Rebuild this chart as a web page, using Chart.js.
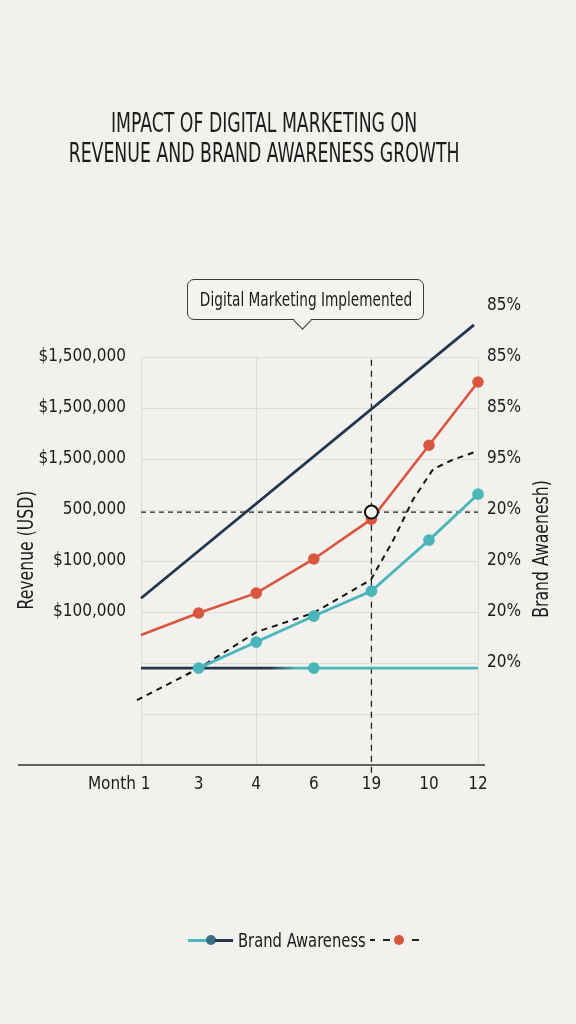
<!DOCTYPE html>
<html>
<head>
<meta charset="utf-8">
<script src="https://cdn.jsdelivr.net/npm/chart.js@4.4.1/dist/chart.umd.min.js"></script>
<style>
  html, body { margin: 0; padding: 0; background: #f2f1ed; }
  body { width: 576px; height: 1024px; position: relative; overflow: hidden;
         font-family: "DejaVu Sans Condensed", "DejaVu Sans", sans-serif; color: #1b1b1b; }
  #chart { position: absolute; left: 0; top: 0; }
  .title { position: absolute; left: 0; top: 108px; width: 528px; text-align: center;
           font-size: 26px; line-height: 30px; white-space: nowrap;
           transform: scaleX(0.74); transform-origin: 264px 0; }
  .callout { position: absolute; left: 187px; top: 279px; width: 235px; height: 39px;
             border: 1.5px solid #3a3a3a; border-radius: 7px; background: #f5f4f0;
             font-size: 19px; line-height: 39px; white-space: nowrap; }
  .callout span { position: absolute; left: 50%; top: 0; transform: translateX(-50%) scaleX(0.8); }
  .callout::after { content: ""; position: absolute; left: 108px; bottom: -8px; width: 12px; height: 12px;
             background: #f5f4f0; border-right: 1.5px solid #3a3a3a; border-bottom: 1.5px solid #3a3a3a;
             transform: rotate(45deg); }
  .legend { position: absolute; left: 188px; top: 928px; height: 24px; display: flex; align-items: center; font-size: 20px; }
  .legend span { display: inline-block; }
  .legend .txt { width: 129px; white-space: nowrap; margin-left: 5px; }
  .legend .txt b { font-weight: normal; display: inline-block; transform: scaleX(0.82); transform-origin: 0 0; }
</style>
</head>
<body>
<canvas id="chart" width="576" height="1024"></canvas>
<div class="title">IMPACT OF DIGITAL MARKETING ON<br>REVENUE AND BRAND AWARENESS GROWTH</div>
<div class="callout"><span>Digital Marketing Implemented</span></div>
<div class="legend">
  <span style="width:19px;height:3px;background:#4cb8bd"></span>
  <span style="width:10px;height:10px;border-radius:50%;background:#3b6e87;margin-left:-1px"></span>
  <span style="width:18px;height:3px;background:#22374d;margin-left:-1px"></span>
  <span class="txt"><b>Brand Awareness</b></span>
  <span style="width:5px;height:2px;background:#222;margin-left:3px"></span>
  <span style="width:7px;height:2px;background:#222;margin-left:8px"></span>
  <span style="width:10px;height:10px;border-radius:50%;background:#d9553e;margin-left:4px"></span>
  <span style="width:7px;height:2px;background:#222;margin-left:8px"></span>
</div>
<script>
// labels
const monthLabels = ['Month 1         ', '3', '4', '6', '19', '10', '12'];
const monthPos = [0, 1, 2, 3, 4, 5, 5.85];
const revenueTickLabels = ['', '', '', '$100,000', '$100,000', '500,000', '$1,500,000', '$1,500,000', '$1,500,000'];
const awarenessTickValues = [2, 3, 4, 5, 6, 7, 8, 9];
const awarenessTickLabels = ['20%', '20%', '20%', '20%', '95%', '85%', '85%', '85%'];

// series (grid units)
const revenue = [2.55, 2.98, 3.37, 4.04, 4.82, 6.27, 7.51];
const awareness = [null, 1.90, 2.41, 2.92, 3.41, 4.41, 5.31];
const trendX = [0, 5.78];
const trendY = [3.27, 8.63];
const baselineX = [0, 3, 5.85];
const baselineY = [1.90, 1.90, 1.90];
const forecastX = [-0.07, 1.01, 2.01, 2.99, 3.99, 4.38, 4.72, 5.07, 5.40, 5.85];
const forecastY = [1.27, 1.90, 2.61, 2.98, 3.63, 4.41, 5.20, 5.80, 5.98, 6.16];
const launchX = 4, launchY = 4.96;

const NAVY = '#22374d', RED = '#d9573f', TEAL = '#4ab6bc', GRID = '#dcdcd8';
const FONT = '"DejaVu Sans Condensed", "DejaVu Sans", sans-serif';

const pts = (xs, ys) => xs.map((x, i) => ({ x, y: ys[i] }));

function sideTitle(ctx, text, x, y) {
  ctx.setTransform(1, 0, 0, 1, 0, 0);
  ctx.translate(x, y);
  ctx.rotate(-Math.PI / 2);
  ctx.scale(0.83, 1);
  ctx.fillText(text, 0, 0);
}

const extras = {
  id: 'extras',
  afterDraw(chart) {
    const { ctx, chartArea } = chart;
    ctx.save();
    // base axis line
    ctx.strokeStyle = '#333';
    ctx.lineWidth = 1.5;
    ctx.beginPath();
    ctx.moveTo(18, chartArea.bottom);
    ctx.lineTo(chartArea.right + 7, chartArea.bottom);
    ctx.stroke();
    // axis titles
    ctx.fillStyle = '#1b1b1b';
    ctx.font = '21px ' + FONT;
    ctx.textAlign = 'center';
    ctx.textBaseline = 'middle';
    sideTitle(ctx, 'Revenue (USD)', 28, 550);
    sideTitle(ctx, 'Brand Awaenesh)', 543, 549);
    ctx.restore();
  }
};

new Chart(document.getElementById('chart'), {
  type: 'line',
  data: {
    datasets: [
      { data: [{ x: launchX, y: launchY }], showLine: false, pointRadius: 6.5,
        pointBackgroundColor: '#f7f6f2', pointBorderColor: '#111', pointBorderWidth: 2, clip: false },
      { data: pts(trendX, trendY), borderColor: NAVY, borderWidth: 2.8,
        pointRadius: c => c.dataIndex === 1 ? 5 : 0, pointBackgroundColor: NAVY, pointBorderColor: NAVY, clip: false },
      { data: pts(monthPos, revenue), borderColor: RED, borderWidth: 2.6,
        pointRadius: c => c.dataIndex === 0 ? 0 : 4.5, pointBackgroundColor: RED, pointBorderColor: RED, clip: false },
      { data: pts(monthPos, awareness), borderColor: TEAL, borderWidth: 2.8,
        pointRadius: 4.5, pointBackgroundColor: TEAL, pointBorderColor: TEAL, clip: false },
      { data: pts(baselineX, baselineY), borderWidth: 2.8,
        borderColor: c => {
          const a = c.chart.chartArea;
          if (!a) return NAVY;
          const g = c.chart.ctx.createLinearGradient(a.left, 0, a.right, 0);
          g.addColorStop(0, NAVY); g.addColorStop(0.38, NAVY); g.addColorStop(0.46, TEAL); g.addColorStop(1, TEAL);
          return g;
        },
        pointRadius: c => c.dataIndex === 1 ? 4.5 : 0, pointBackgroundColor: TEAL, pointBorderColor: TEAL, clip: false },
      { data: pts(forecastX, forecastY), borderColor: '#151515', borderWidth: 2, borderDash: [6, 5],
        pointRadius: 0, clip: false },
      { data: [{ x: 0, y: launchY }, { x: 5.85, y: launchY }], borderColor: '#222', borderWidth: 1.3,
        borderDash: [5, 4], pointRadius: 0, clip: false },
      { data: [{ x: launchX, y: -0.15 }, { x: launchX, y: 8 }], borderColor: '#222', borderWidth: 1.3,
        borderDash: [6, 5], pointRadius: 0, clip: false }
    ]
  },
  options: {
    responsive: false,
    animation: false,
    layout: { padding: { top: 357 } },
    plugins: { legend: { display: false }, tooltip: { enabled: false } },
    scales: {
      x: {
        type: 'linear', min: 0, max: 5.85,
        afterBuildTicks: s => { s.ticks = monthPos.map(v => ({ value: v })); },
        afterFit: s => { s.height = 1024 - 765; },
        ticks: { callback: (v, i) => monthLabels[i], autoSkip: false, maxRotation: 0, padding: 9,
                 color: '#1b1b1b', font: { family: FONT, size: 17 } },
        grid: { color: c => c.index % 2 === 0 ? GRID : 'rgba(0,0,0,0)', drawTicks: false },
        border: { display: false }
      },
      y: {
        position: 'left', min: 0, max: 8,
        afterFit: s => { s.width = 141; },
        ticks: { stepSize: 1, callback: v => revenueTickLabels[v] || '', padding: 15,
                 color: '#1b1b1b', font: { family: FONT, size: 17 } },
        grid: { color: c => c.tick.value === 0 ? 'rgba(0,0,0,0)' : GRID, drawTicks: false },
        border: { display: false }
      },
      y2: {
        position: 'right', min: 0, max: 8,
        afterBuildTicks: s => { s.ticks = awarenessTickValues.map(v => ({ value: v })); },
        afterFit: s => { s.width = 576 - 478; },
        ticks: { callback: (v, i) => awarenessTickLabels[i], autoSkip: false, padding: 9,
                 color: '#1b1b1b', font: { family: FONT, size: 17 } },
        grid: { display: false, drawTicks: false },
        border: { display: false }
      }
    }
  },
  plugins: [extras]
});
</script>
</body>
</html>
